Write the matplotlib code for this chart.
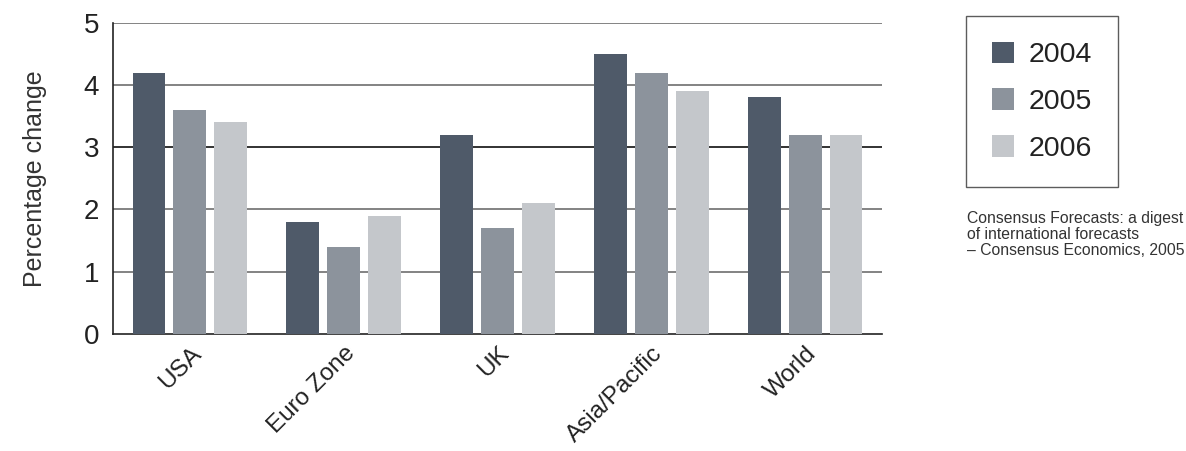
import numpy as np
import matplotlib.pyplot as plt
from matplotlib.patches import Patch

plt.rcParams['font.family'] = ['Liberation Sans', 'DejaVu Sans']

# growth forecasts by region
regions = ['USA', 'Euro Zone', 'UK', 'Asia/Pacific', 'World']
years = ['2004', '2005', '2006']
g2004 = [4.2, 1.8, 3.2, 4.5, 3.8]
g2005 = [3.6, 1.4, 1.7, 4.2, 3.2]
g2006 = [3.4, 1.9, 2.1, 3.9, 3.2]
colors = ['#4f5a69', '#8c939c', '#c4c7cb']

fig = plt.figure(figsize=(11.86, 4.51), dpi=100)
ax = fig.add_axes([113/1186, 1-334/451, 769/1186, (334-22.7)/451])

x = np.arange(len(regions))
w = 0.214
step = 0.266
for i, vals in enumerate([g2004, g2005, g2006]):
    ax.bar(x + (i-1)*step, vals, width=w, color=colors[i], zorder=3)

# horizontal rules
for yv in [1, 2, 4, 5]:
    ax.axhline(yv, color='#7a7a7a', lw=1.3, zorder=1)
ax.axhline(3, color='#222222', lw=1.3, zorder=1)

ax.set_xlim(-0.5, 4.5)
ax.set_ylim(0, 5)
ax.set_yticks(range(6))
ax.set_xticks(x)
ax.set_xticklabels(regions, rotation=45, ha='right', rotation_mode='anchor')
ax.tick_params(axis='both', length=0, colors='#222222')
ax.tick_params(axis='y', pad=10, labelsize=20)
ax.tick_params(axis='x', pad=6, labelsize=17.5)
for s in ['top', 'right']:
    ax.spines[s].set_visible(False)
ax.spines['left'].set_color('#222222')
ax.spines['bottom'].set_color('#222222')
ax.spines['left'].set_linewidth(1.2)
ax.spines['bottom'].set_linewidth(1.2)
ax.set_ylabel('Percentage change', fontsize=18, color='#333333', labelpad=26)

handles = [Patch(facecolor=c, edgecolor='none') for c in colors]
leg = fig.legend(handles, years, loc='upper left',
                 bbox_to_anchor=(966/1186, 1-16/451), fontsize=20.5,
                 frameon=True, fancybox=False, handlelength=0.8,
                 handleheight=0.8, handletextpad=0.5, labelspacing=0.7,
                 borderpad=0.9, borderaxespad=0)
leg.get_frame().set_edgecolor('#333333')
leg.get_frame().set_linewidth(1.0)
for t in leg.get_texts():
    t.set_color('#222222')

fig.text(967/1186, 1-211/451,
         'Consensus Forecasts: a digest\nof international forecasts\n– Consensus Economics, 2005',
         fontsize=11.3, color='#333333', va='top', ha='left', linespacing=1.1)

fig.savefig('out.png', dpi=100)
